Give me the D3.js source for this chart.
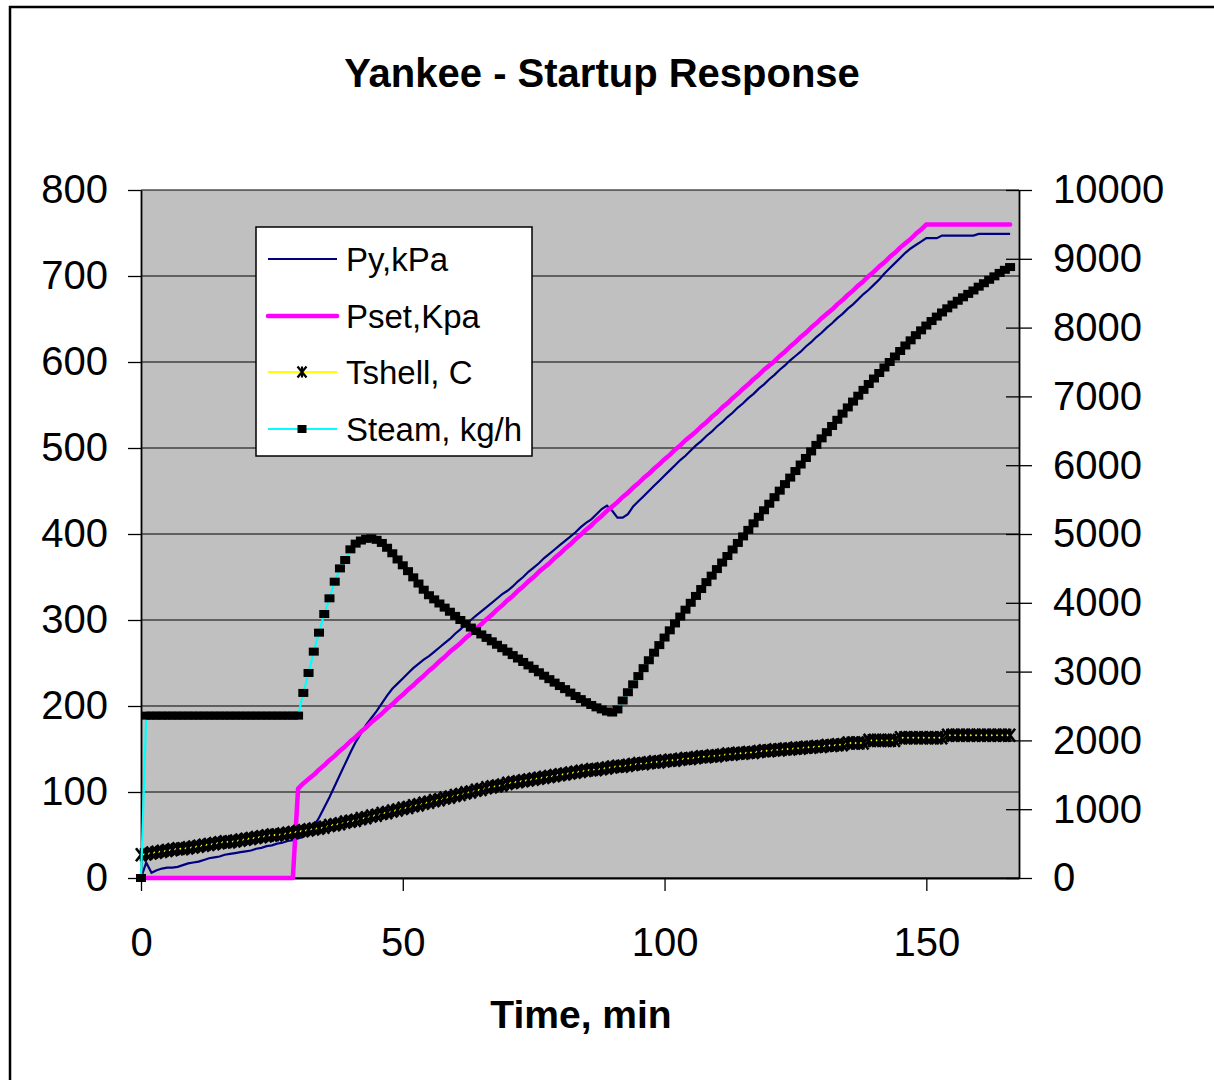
<!DOCTYPE html>
<html><head><meta charset="utf-8">
<script src="https://cdn.jsdelivr.net/npm/d3@7"></script>
<style>
body{margin:0;background:#fff;}
text{font-family:"Liberation Sans",Arial,sans-serif;}
</style>
</head><body>
<svg id="chart" width="1214" height="1080"></svg>
<script>
const minutes = [
0,1,2,3,4,5,6,7,8,9,10,11,12,13,14,15,16,17,18,19,20,21,22,23,24,25,26,27,28,29,
30,31,32,33,34,35,36,37,38,39,40,41,42,43,44,45,46,47,48,49,50,51,52,53,54,55,56,57,58,59,
60,61,62,63,64,65,66,67,68,69,70,71,72,73,74,75,76,77,78,79,80,81,82,83,84,85,86,87,88,89,
90,91,92,93,94,95,96,97,98,99,100,101,102,103,104,105,106,107,108,109,110,111,112,113,114,115,116,117,118,119,
120,121,122,123,124,125,126,127,128,129,130,131,132,133,134,135,136,137,138,139,140,141,142,143,144,145,146,147,148,149,
150,151,152,153,154,155,156,157,158,159,160,161,162,163,164,165,166];

const pyKPa = [
0,18,6,9,11,12,12,13,15,17,
18,19,21,23,24,25,27,28,29,30,
31,32,34,35,37,38,40,41,43,44,
46,48,52,60,70,82,94,107,120,133,
146,158,168,178,186,194,203,212,220,226,
232,238,244,249,254,258,263,268,273,278,
284,289,295,300,305,310,315,320,325,330,
334,339,345,350,356,361,366,372,377,382,
387,392,397,402,408,413,417,423,429,433,
427,419,419,423,432,438,444,450,456,462,
468,474,480,486,491,497,503,508,514,519,
525,530,536,541,547,552,558,563,569,574,
580,585,591,596,602,607,612,618,623,629,
634,640,645,651,656,662,667,673,679,684,
690,696,703,709,715,721,727,732,736,740,
744,744,744,747,747,747,747,747,747,747,
749,749,749,749,749,749,749];

const psetKPa = [
0,0,0,0,0,0,0,0,0,0,
0,0,0,0,0,0,0,0,0,0,
0,0,0,0,0,0,0,0,0,0,
104,110,115,120,126,131,137,142,148,153,
159,164,170,175,181,186,191,197,202,208,
213,219,224,230,235,241,246,252,257,263,
268,273,279,284,290,295,301,306,312,317,
323,328,334,339,345,350,356,361,366,372,
377,383,388,394,399,405,410,416,421,427,
432,437,443,448,454,459,465,470,476,481,
487,492,498,503,509,514,519,525,530,536,
541,547,552,558,563,569,574,580,585,591,
596,601,607,612,618,623,629,634,640,645,
651,656,661,667,672,678,683,689,694,700,
705,711,716,722,727,733,738,743,749,754,
760,760,760,760,760,760,760,760,760,760,
760,760,760,760,760,760,760];

const tshellC = [
27,28,29,30,31,32,33,34,34,35,
36,37,38,39,40,41,42,42,43,44,
45,46,47,48,49,50,50,51,52,53,
54,55,56,57,58,59,61,62,63,65,
66,67,69,70,72,73,75,76,78,79,
81,82,84,85,87,88,90,91,93,94,
96,97,99,100,102,103,105,106,107,108,
110,111,112,113,114,115,116,117,118,119,
120,121,122,123,124,125,126,126,127,128,
129,130,130,131,132,133,133,134,135,135,
136,137,137,138,139,139,140,141,141,142,
142,143,144,144,145,145,146,146,147,148,
148,149,149,150,150,151,151,152,152,153,
153,154,154,155,155,157,157,157,157,160,
160,160,160,160,160,163,163,163,163,163,
163,163,163,163,166,166,166,166,166,166,
166,166,166,166,166,166,166];

const steamKgH = [
0,2360,2360,2360,2360,2360,2360,2360,2360,2360,
2360,2360,2360,2360,2360,2360,2360,2360,2360,2360,
2360,2360,2360,2360,2360,2360,2360,2360,2360,2360,
2360,2690,2980,3290,3566,3837,4065,4307,4500,4622,
4777,4860,4905,4930,4937,4915,4870,4800,4720,4630,
4545,4460,4370,4280,4190,4110,4050,3990,3930,3870,
3810,3750,3695,3640,3590,3540,3490,3440,3390,3340,
3290,3240,3190,3140,3090,3040,2990,2940,2890,2840,
2790,2745,2695,2645,2600,2555,2515,2480,2450,2420,
2405,2450,2580,2700,2815,2935,3050,3165,3275,3385,
3495,3600,3700,3800,3900,4000,4100,4200,4300,4395,
4490,4585,4680,4775,4870,4965,5060,5155,5250,5345,
5440,5535,5630,5725,5820,5915,6010,6105,6200,6295,
6390,6480,6570,6660,6750,6840,6925,7010,7095,7180,
7260,7340,7420,7500,7580,7660,7740,7815,7890,7960,
8030,8095,8160,8220,8280,8335,8390,8440,8490,8540,
8595,8645,8695,8745,8795,8840,8880];

const leftTicks = [0,100,200,300,400,500,600,700,800];
const rightTicks = [0,1000,2000,3000,4000,5000,6000,7000,8000,9000,10000];
const xTicks = [0,50,100,150];
const seriesNames = ["Py,kPa","Pset,Kpa","Tshell, C","Steam, kg/h"];
const titleText = "Yankee - Startup Response";
const xTitleText = "Time, min";

const svg = d3.select("#chart");
const FONT = '"Liberation Sans", Arial, sans-serif';

// outer chart frame
svg.append("rect").attr("x",10).attr("y",7).attr("width",1230).attr("height",1100)
  .attr("fill","#fff").attr("stroke","#000").attr("stroke-width",2.5);

const L=141, R=1019, T=190, B=878;
const x = d3.scaleLinear().domain([0,167.7]).range([L,R]);
const yL = d3.scaleLinear().domain([0,800]).range([B,T]);
const yR = d3.scaleLinear().domain([0,10000]).range([B,T]);

// plot area
svg.append("rect").attr("x",L).attr("y",T).attr("width",R-L).attr("height",B-T).attr("fill","#c0c0c0");

// gridlines
svg.append("g").selectAll("line").data(leftTicks).join("line")
  .attr("x1",L).attr("x2",R).attr("y1",d=>yL(d)).attr("y2",d=>yL(d))
  .attr("stroke","#000").attr("stroke-width",1.2);

function styleAxis(g){
  g.selectAll("text").attr("font-family",FONT).attr("font-size",40).attr("fill","#000");
  g.selectAll("line").attr("stroke","#000").attr("stroke-width",1.3);
  g.select(".domain").attr("stroke","#000").attr("stroke-width",1.8);
}

const gL = svg.append("g").attr("transform",`translate(${L},0)`)
  .call(d3.axisLeft(yL).tickValues(leftTicks).tickFormat(d3.format("d")).tickSizeInner(13).tickSizeOuter(0).tickPadding(20));
styleAxis(gL);

const gB = svg.append("g").attr("transform",`translate(0,${B})`)
  .call(d3.axisBottom(x).tickValues(xTicks).tickFormat(d3.format("d")).tickSizeInner(13).tickSizeOuter(0).tickPadding(37));
styleAxis(gB);

const gR = svg.append("g").attr("transform",`translate(${R},0)`)
  .call(d3.axisRight(yR).tickValues(rightTicks).tickFormat(d3.format("d")).tickSizeInner(13).tickSizeOuter(0).tickPadding(21));
gR.selectAll(".tick line").attr("x1",-13);
styleAxis(gR);

const plot = svg.append("g");

// Py
plot.append("path").datum(minutes)
  .attr("d", d3.line().x(t=>x(t)).y((t,i)=>yL(pyKPa[i])))
  .attr("fill","none").attr("stroke","#000080").attr("stroke-width",2.2);

// Pset
plot.append("path").datum(minutes)
  .attr("d", d3.line().x(t=>x(t)).y((t,i)=>yL(psetKPa[i])))
  .attr("fill","none").attr("stroke","#ff00ff").attr("stroke-width",4.5)
  .attr("stroke-linejoin","round").attr("stroke-linecap","round");

// Tshell
const starPath = "M-5,-6.5L5,6.5M-5,6.5L5,-6.5M0,-6.5L0,6.5";
plot.append("path").datum(minutes)
  .attr("d", d3.line().x(t=>x(t)).y((t,i)=>yL(tshellC[i])))
  .attr("fill","none").attr("stroke","#ffff00").attr("stroke-width",2);
plot.append("g").selectAll("path").data(minutes).join("path")
  .attr("transform",(t,i)=>`translate(${x(t)},${yL(tshellC[i])})`)
  .attr("d",starPath).attr("stroke","#000").attr("stroke-width",2.6).attr("fill","none");

// Steam (secondary axis)
plot.append("path").datum(minutes)
  .attr("d", d3.line().x(t=>x(t)).y((t,i)=>yR(steamKgH[i])))
  .attr("fill","none").attr("stroke","#00ffff").attr("stroke-width",2.2);
plot.append("g").selectAll("rect").data(minutes).join("rect")
  .attr("x",t=>x(t)-5).attr("y",(t,i)=>yR(steamKgH[i])-4)
  .attr("width",10).attr("height",8).attr("fill","#000");

// Legend
const lg = svg.append("g");
lg.append("rect").attr("x",256).attr("y",227).attr("width",276).attr("height",229)
  .attr("fill","#fff").attr("stroke","#000").attr("stroke-width",1.5);
const legY = [259,316,372,429];
const legStroke = ["#000080","#ff00ff","#ffff00","#00ffff"];
const legWidth = [2.2,4.5,2,2.2];
seriesNames.forEach((name,i)=>{
  lg.append("line").attr("x1",268).attr("x2",337).attr("y1",legY[i]).attr("y2",legY[i])
    .attr("stroke",legStroke[i]).attr("stroke-width",legWidth[i]).attr("stroke-linecap", i===1?"round":"butt");
  if(i===2){
    lg.append("path").attr("transform",`translate(302,${legY[i]})`).attr("d","M-4.5,-5.5L4.5,5.5M-4.5,5.5L4.5,-5.5M0,-5.5L0,5.5")
      .attr("stroke","#000").attr("stroke-width",2.2).attr("fill","none");
  }
  if(i===3){
    lg.append("rect").attr("x",297.5).attr("y",legY[i]-4).attr("width",9).attr("height",8).attr("fill","#000");
  }
  lg.append("text").attr("x",346).attr("y",legY[i]).attr("dy","0.35em")
    .attr("font-size",33).attr("fill","#000").text(name);
});

// Titles
svg.append("text").attr("x",602).attr("y",87).attr("text-anchor","middle")
  .attr("font-size",40).attr("font-weight","bold").attr("fill","#000").text(titleText);
svg.append("text").attr("x",581).attr("y",1028).attr("text-anchor","middle")
  .attr("font-size",39).attr("font-weight","bold").attr("fill","#000").text(xTitleText);
</script>
</body></html>
